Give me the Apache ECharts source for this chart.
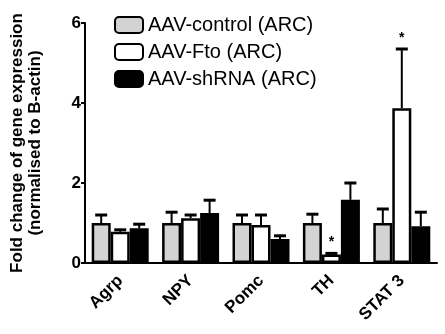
<!DOCTYPE html>
<html>
<head>
<meta charset="utf-8">
<script src="https://cdn.jsdelivr.net/npm/echarts@6/dist/echarts.min.js"></script>
<style>
  html, body { margin: 0; padding: 0; background: #fff; }
  #chart { width: 445px; height: 334px; }
</style>
</head>
<body>
<div id="chart"></div>
<script>
// categories and values
const genes = ['Agrp', 'NPY', 'Pomc', 'TH', 'STAT 3']
const seriesNames = ['AAV-control (ARC)', 'AAV-Fto (ARC)', 'AAV-shRNA (ARC)']
const controlMean = [1.0, 1.0, 1.0, 1.0, 1.0]
const controlErr = [0.2, 0.27, 0.2, 0.22, 0.35]
const ftoMean = [0.78, 1.12, 0.95, 0.21, 3.87]
const ftoErr = [0.05, 0.08, 0.25, 0.03, 1.48]
const shrnaMean = [0.87, 1.25, 0.6, 1.58, 0.92]
const shrnaErr = [0.1, 0.32, 0.08, 0.42, 0.35]
// significance marks per gene, for the Fto series
const ftoStars = ['', '', '', '*', '*']
const yTicks = [0, 2, 4, 6]

const barColors = ['#d3d3d3', '#ffffff', '#000000']
const barW = 19
const means = [controlMean, ftoMean, shrnaMean]
const errs = [controlErr, ftoErr, shrnaErr]

const chart = echarts.init(document.getElementById('chart'))

// error bars (upper only) + asterisks
function errSeries(idx) {
  const data = genes.map((g, i) => [i, means[idx][i], means[idx][i] + errs[idx][i], idx === 1 ? ftoStars[i] : ''])
  return {
    type: 'custom',
    z: 1,
    silent: true,
    data: data,
    encode: { x: 0, y: [1, 2] },
    renderItem: (params, api) => {
      const off = (idx - 1) * barW
      const base = api.coord([api.value(0), api.value(1)])
      const top = api.coord([api.value(0), api.value(2)])
      const x = base[0] + off
      const cap = 6
      const children = [
        { type: 'line', shape: { x1: x, y1: base[1], x2: x, y2: top[1] }, style: { stroke: '#000', lineWidth: 2 } },
        { type: 'line', shape: { x1: x - cap, y1: top[1], x2: x + cap, y2: top[1] }, style: { stroke: '#000', lineWidth: 3 } }
      ]
      const star = data[params.dataIndex][3]
      if (star) {
        children.push({
          type: 'text',
          style: {
            text: star, x: x, y: top[1] - 4, align: 'center', verticalAlign: 'bottom',
            fontSize: 14, fontWeight: 'bold', fill: '#000', fontFamily: 'Liberation Sans, Arial'
          }
        })
      }
      return { type: 'group', children: children }
    }
  }
}

const option = {
  animation: false,
  backgroundColor: '#fff',
  textStyle: { fontFamily: 'Liberation Sans, Arial, sans-serif', color: '#000' },
  grid: { left: 82, right: 8, top: 23, bottom: 71, containLabel: false },
  legend: {
    orient: 'vertical',
    left: 109,
    top: 10,
    itemWidth: 28,
    itemHeight: 16,
    itemGap: 7,
    icon: 'roundRect',
    textStyle: { fontSize: 20, color: '#000', fontFamily: 'Liberation Sans, Arial' },
    data: seriesNames
  },
  xAxis: {
    type: 'category',
    data: genes,
    axisLine: { lineStyle: { color: '#000', width: 2 } },
    axisTick: { alignWithLabel: true, length: 6, lineStyle: { color: '#000', width: 2 } },
    axisLabel: { rotate: 45, fontSize: 17, fontWeight: 'bold', color: '#000', margin: 15 }
  },
  yAxis: {
    type: 'value',
    min: yTicks[0],
    max: yTicks[yTicks.length - 1],
    interval: 2,
    name: 'Fold change of gene expression\n(normalised to B-actin)',
    nameLocation: 'middle',
    nameRotate: 90,
    nameGap: 41,
    nameTextStyle: { fontSize: 17, fontWeight: 'bold', color: '#000', lineHeight: 18 },
    splitLine: { show: false },
    axisLine: { show: true, lineStyle: { color: '#000', width: 2 } },
    axisTick: { show: true, length: 4, lineStyle: { color: '#000', width: 2 } },
    axisLabel: { fontSize: 17, fontWeight: 'bold', color: '#000', margin: 4 }
  },
  series: [
    ...seriesNames.map((name, k) => ({
      name: name,
      type: 'bar',
      z: 2,
      barWidth: barW,
      barGap: '0%',
      data: means[k],
      itemStyle: { color: barColors[k], borderColor: '#000', borderWidth: 2.5 }
    })),
    errSeries(0),
    errSeries(1),
    errSeries(2)
  ]
}

chart.setOption(option)
</script>
</body>
</html>
